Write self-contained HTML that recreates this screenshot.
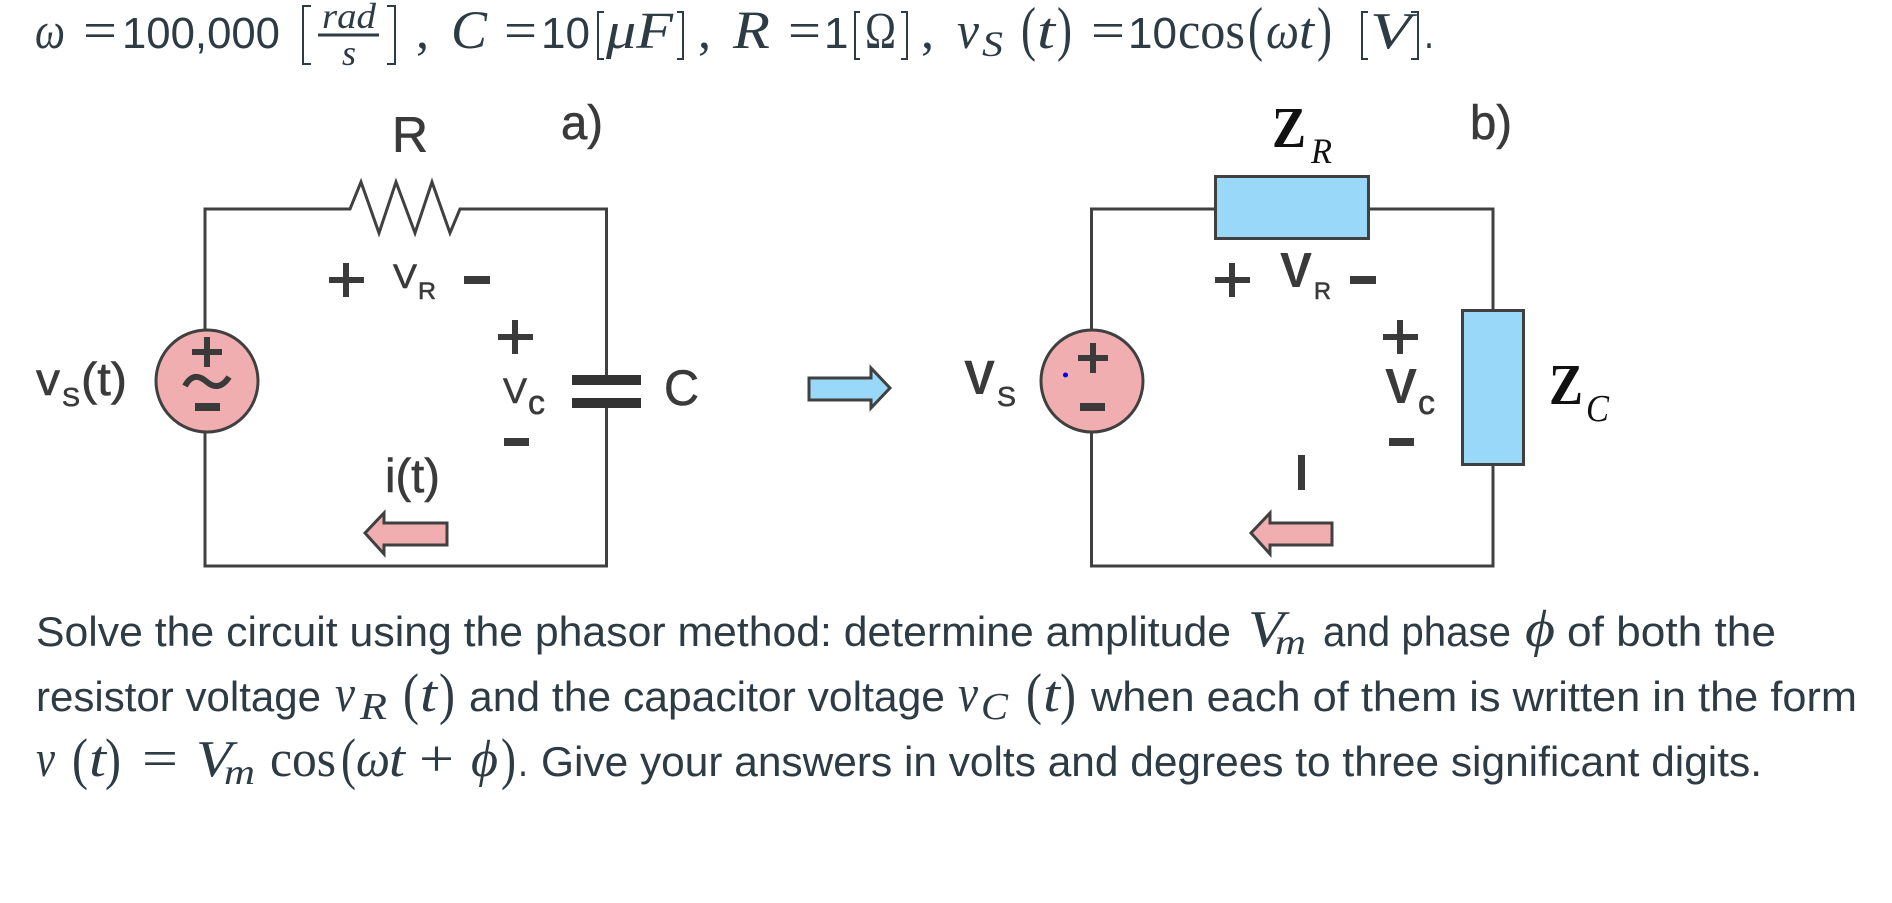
<!DOCTYPE html>
<html><head><meta charset="utf-8"><style>
html,body{margin:0;padding:0;background:#fff;width:1892px;height:903px;overflow:hidden}
svg{display:block}
.b{font-family:"Liberation Sans",sans-serif;font-size:42px;fill:#2d3b45}
.m{font-family:"Liberation Serif",serif;font-size:52px;fill:#2d3b45}
.i{font-style:italic}
.d{font-family:"Liberation Sans",sans-serif;font-size:44px;fill:#2d3b45}
.c{font-family:"Liberation Sans",sans-serif;fill:#3a3a3a;stroke:#3a3a3a;stroke-width:.6}
.z{font-family:"Liberation Serif",serif;fill:#111}
.w{fill:none;stroke:#404040;stroke-width:3}
.p{stroke:#3a3a3a;stroke-width:6;fill:none}
</style></head><body>
<svg width="1892" height="903" viewBox="0 0 1892 903" xmlns="http://www.w3.org/2000/svg">
<!-- top equation -->
<text class="m i" x="35" y="48" textLength="30" lengthAdjust="spacingAndGlyphs">ω</text>
<text class="m" x="83" y="48" textLength="34" lengthAdjust="spacingAndGlyphs">=</text>
<text class="d" x="122" y="48" textLength="158" lengthAdjust="spacingAndGlyphs">100,000</text>
<path d="M311 6H303V64H311M387 6H395V64H387" fill="none" stroke="#2d3b45" stroke-width="2"/>
<text class="m i" x="322" y="28" style="font-size:36px" textLength="54" lengthAdjust="spacingAndGlyphs">rad</text>
<rect x="318" y="33.500" width="61" height="3" fill="#2d3b45"/>
<text class="m i" x="342" y="65" style="font-size:36px" textLength="14" lengthAdjust="spacingAndGlyphs">s</text>
<text class="m" x="416" y="48">,</text>
<text class="m i" x="451" y="48" style="font-size:54px" textLength="36" lengthAdjust="spacingAndGlyphs">C</text>
<text class="m" x="504" y="48" textLength="33" lengthAdjust="spacingAndGlyphs">=</text>
<text class="d" x="541" y="48" textLength="49" lengthAdjust="spacingAndGlyphs">10</text>
<path d="M604 12H598V59H604M677 12H683V59H677" fill="none" stroke="#2d3b45" stroke-width="2"/>
<text class="m i" x="606" y="48" textLength="67" lengthAdjust="spacingAndGlyphs">μF</text>
<text class="m" x="698" y="48">,</text>
<text class="m i" x="733" y="48" style="font-size:54px" textLength="37" lengthAdjust="spacingAndGlyphs">R</text>
<text class="m" x="788" y="48" textLength="33" lengthAdjust="spacingAndGlyphs">=</text>
<text class="d" x="824" y="48">1</text>
<path d="M860 12H855V59H860M901 12H907V59H901" fill="none" stroke="#2d3b45" stroke-width="2"/>
<text class="m" x="865" y="48" textLength="31" lengthAdjust="spacingAndGlyphs">Ω</text>
<text class="m" x="921" y="48">,</text>
<text class="m i" x="957" y="48" textLength="22" lengthAdjust="spacingAndGlyphs">v</text>
<text class="m i" x="982" y="56" style="font-size:36px" textLength="21" lengthAdjust="spacingAndGlyphs">S</text>
<text class="m" x="1021" y="49" style="font-size:60px" textLength="15" lengthAdjust="spacingAndGlyphs">(</text>
<text class="m i" x="1037" y="48" textLength="18" lengthAdjust="spacingAndGlyphs">t</text>
<text class="m" x="1057" y="49" style="font-size:60px" textLength="15" lengthAdjust="spacingAndGlyphs">)</text>
<text class="m" x="1091" y="48" textLength="34" lengthAdjust="spacingAndGlyphs">=</text>
<text class="d" x="1128" y="48" textLength="49" lengthAdjust="spacingAndGlyphs">10</text>
<text class="m" x="1178" y="48" textLength="67" lengthAdjust="spacingAndGlyphs">cos</text>
<text class="m" x="1248" y="49" style="font-size:60px" textLength="15" lengthAdjust="spacingAndGlyphs">(</text>
<text class="m i" x="1266" y="48" textLength="33" lengthAdjust="spacingAndGlyphs">ω</text>
<text class="m i" x="1299" y="48" textLength="15" lengthAdjust="spacingAndGlyphs">t</text>
<text class="m" x="1317" y="49" style="font-size:60px" textLength="15" lengthAdjust="spacingAndGlyphs">)</text>
<path d="M1368 12H1362V59H1368M1411 12H1418V59H1411" fill="none" stroke="#2d3b45" stroke-width="2"/>
<text class="m i" x="1370" y="48" textLength="41" lengthAdjust="spacingAndGlyphs">V</text>
<text class="d" x="1424" y="48" textLength="10" lengthAdjust="spacingAndGlyphs">.</text>

<!-- circuit a -->
<path class="w" d="M205 330V209H350L361 182L379 233L396 182L415 233L432 182L450 233L460 209H606.500V375M606.500 408V566H205V432"/>
<ellipse cx="207" cy="381" rx="51" ry="51" fill="#f1aeb0" stroke="#404040" stroke-width="3"/>
<path class="p" d="M192 352H222M207 337V367"/>
<path d="M185 386C192 373 200 376 207 382C214 388 222 388 229 377" fill="none" stroke="#3a3a3a" stroke-width="6"/>
<rect x="195" y="403" width="25" height="8" fill="#3a3a3a"/>
<rect x="572" y="375" width="69" height="10" fill="#333"/>
<rect x="572" y="398" width="69" height="10" fill="#333"/>
<path class="p" d="M329 280H364M346 263V297"/>
<text class="c" x="393" y="288" style="font-size:34px" textLength="24" lengthAdjust="spacingAndGlyphs">V</text>
<text class="c" x="418" y="299" style="font-size:24px" textLength="18" lengthAdjust="spacingAndGlyphs">R</text>
<rect x="464" y="276" width="26" height="8" fill="#3a3a3a"/>
<path class="p" d="M498 337H533M515 320V354"/>
<text class="c" x="503" y="403" style="font-size:35px" textLength="24" lengthAdjust="spacingAndGlyphs">V</text>
<text class="c" x="528" y="414" style="font-size:34px" textLength="17" lengthAdjust="spacingAndGlyphs">c</text>
<rect x="504" y="438" width="25" height="8" fill="#3a3a3a"/>
<text class="c" x="392" y="152" style="font-size:50px" textLength="36" lengthAdjust="spacingAndGlyphs">R</text>
<text class="c" x="561" y="139" style="font-size:48px" textLength="42" lengthAdjust="spacingAndGlyphs">a)</text>
<text class="c" x="664" y="405" style="font-size:50px" textLength="35" lengthAdjust="spacingAndGlyphs">C</text>
<text class="c" x="36" y="395" style="font-size:46px" textLength="24" lengthAdjust="spacingAndGlyphs">v</text>
<text class="c" x="62" y="406" style="font-size:26px" textLength="18" lengthAdjust="spacingAndGlyphs">S</text>
<text class="c" x="81" y="395" style="font-size:46px" textLength="46" lengthAdjust="spacingAndGlyphs">(t)</text>
<text class="c" x="385" y="492" style="font-size:47px" textLength="55" lengthAdjust="spacingAndGlyphs">i(t)</text>
<path d="M447 523H384V513L365 533L384 554V545H447Z" fill="#f1aeb0" stroke="#404040" stroke-width="3"/>
<path d="M809 378H871V368L890 388L871 408V400H809Z" fill="#99d8f9" stroke="#404040" stroke-width="3"/>

<!-- circuit b -->
<path class="w" d="M1091.500 330V209H1215M1369 209H1493V310M1493 464V566H1091.500V432"/>
<rect x="1215.500" y="176.500" width="153" height="62" fill="#99d8f9" stroke="#404040" stroke-width="3"/>
<rect x="1462.500" y="310.500" width="61" height="154" fill="#99d8f9" stroke="#404040" stroke-width="3"/>
<ellipse cx="1092" cy="381" rx="51" ry="51" fill="#f1aeb0" stroke="#404040" stroke-width="3"/>
<path class="p" d="M1078 358H1108M1093 343V373"/>
<rect x="1080" y="403" width="25" height="8" fill="#3a3a3a"/>
<circle cx="1065.500" cy="375" r="2.500" fill="#0000e0"/>
<path class="p" d="M1215 280H1250M1232 263V297"/>
<text class="c" x="1280" y="287" style="font-size:49px;font-weight:bold;stroke-width:0" textLength="32" lengthAdjust="spacingAndGlyphs">V</text>
<text class="c" x="1314" y="299" style="font-size:24px" textLength="17" lengthAdjust="spacingAndGlyphs">R</text>
<rect x="1350" y="276" width="26" height="8" fill="#3a3a3a"/>
<path class="p" d="M1383 337H1418M1400 320V354"/>
<text class="c" x="1385" y="403" style="font-size:49px;font-weight:bold;stroke-width:0" textLength="32" lengthAdjust="spacingAndGlyphs">V</text>
<text class="c" x="1418" y="414" style="font-size:34px" textLength="17" lengthAdjust="spacingAndGlyphs">c</text>
<rect x="1389" y="438" width="25" height="8" fill="#3a3a3a"/>
<text class="c" x="964" y="394" style="font-size:48px;font-weight:bold;stroke-width:0" textLength="31" lengthAdjust="spacingAndGlyphs">V</text>
<text class="c" x="997" y="406" style="font-size:28px" textLength="19" lengthAdjust="spacingAndGlyphs">S</text>
<rect x="1298" y="455" width="7" height="35" fill="#3a3a3a"/>
<text class="z" x="1272" y="147" style="font-size:58px;font-weight:bold" textLength="34" lengthAdjust="spacingAndGlyphs">Z</text>
<text class="z" x="1311" y="163" style="font-size:36px;font-style:italic" textLength="21" lengthAdjust="spacingAndGlyphs">R</text>
<text class="c" x="1470" y="139" style="font-size:48px" textLength="42" lengthAdjust="spacingAndGlyphs">b)</text>
<text class="z" x="1549" y="404" style="font-size:58px;font-weight:bold" textLength="34" lengthAdjust="spacingAndGlyphs">Z</text>
<text class="z" x="1586" y="421" style="font-size:38px;font-style:italic" textLength="23" lengthAdjust="spacingAndGlyphs">C</text>
<path d="M1332 523H1270V513L1251 533L1270 554V545H1332Z" fill="#f1aeb0" stroke="#404040" stroke-width="3"/>

<!-- body line 1 -->
<text class="b" x="36" y="646" textLength="1195" lengthAdjust="spacingAndGlyphs">Solve the circuit using the phasor method: determine amplitude</text>
<text class="m i" x="1248" y="646" textLength="36" lengthAdjust="spacingAndGlyphs">V</text>
<text class="m i" x="1275" y="654" style="font-size:36px" textLength="31" lengthAdjust="spacingAndGlyphs">m</text>
<text class="b" x="1323" y="646" textLength="188" lengthAdjust="spacingAndGlyphs">and phase</text>
<text class="m i" x="1525" y="646" textLength="30" lengthAdjust="spacingAndGlyphs">ϕ</text>
<text class="b" x="1567" y="646" textLength="209" lengthAdjust="spacingAndGlyphs">of both the</text>
<!-- body line 2 -->
<text class="b" x="36" y="711" textLength="285" lengthAdjust="spacingAndGlyphs">resistor voltage</text>
<text class="m i" x="335" y="711" textLength="20" lengthAdjust="spacingAndGlyphs">v</text>
<text class="m i" x="360" y="719" style="font-size:38px" textLength="27" lengthAdjust="spacingAndGlyphs">R</text>
<text class="m" x="403" y="713" style="font-size:57px" textLength="16" lengthAdjust="spacingAndGlyphs">(</text>
<text class="m i" x="420" y="711" textLength="17" lengthAdjust="spacingAndGlyphs">t</text>
<text class="m" x="439" y="713" style="font-size:57px" textLength="16" lengthAdjust="spacingAndGlyphs">)</text>
<text class="b" x="469" y="711" textLength="476" lengthAdjust="spacingAndGlyphs">and the capacitor voltage</text>
<text class="m i" x="958" y="711" textLength="20" lengthAdjust="spacingAndGlyphs">v</text>
<text class="m i" x="981" y="719" style="font-size:38px" textLength="27" lengthAdjust="spacingAndGlyphs">C</text>
<text class="m" x="1026" y="713" style="font-size:57px" textLength="16" lengthAdjust="spacingAndGlyphs">(</text>
<text class="m i" x="1043" y="711" textLength="17" lengthAdjust="spacingAndGlyphs">t</text>
<text class="m" x="1060" y="713" style="font-size:57px" textLength="16" lengthAdjust="spacingAndGlyphs">)</text>
<text class="b" x="1091" y="711" textLength="766" lengthAdjust="spacingAndGlyphs">when each of them is written in the form</text>
<!-- body line 3 -->
<text class="m i" x="36" y="776" textLength="19" lengthAdjust="spacingAndGlyphs">v</text>
<text class="m" x="72" y="778" style="font-size:57px" textLength="16" lengthAdjust="spacingAndGlyphs">(</text>
<text class="m i" x="89" y="776" textLength="17" lengthAdjust="spacingAndGlyphs">t</text>
<text class="m" x="105" y="778" style="font-size:57px" textLength="16" lengthAdjust="spacingAndGlyphs">)</text>
<text class="m" x="142" y="776" textLength="36" lengthAdjust="spacingAndGlyphs">=</text>
<text class="m i" x="196" y="776" textLength="36" lengthAdjust="spacingAndGlyphs">V</text>
<text class="m i" x="224" y="784" style="font-size:36px" textLength="31" lengthAdjust="spacingAndGlyphs">m</text>
<text class="m" x="270" y="776" textLength="66" lengthAdjust="spacingAndGlyphs">cos</text>
<text class="m" x="341" y="778" style="font-size:57px" textLength="15" lengthAdjust="spacingAndGlyphs">(</text>
<text class="m i" x="356" y="776" textLength="34" lengthAdjust="spacingAndGlyphs">ω</text>
<text class="m i" x="389" y="776" textLength="16" lengthAdjust="spacingAndGlyphs">t</text>
<text class="m" x="419" y="776" textLength="35" lengthAdjust="spacingAndGlyphs">+</text>
<text class="m i" x="471" y="776" textLength="27" lengthAdjust="spacingAndGlyphs">ϕ</text>
<text class="m" x="501" y="778" style="font-size:57px" textLength="15" lengthAdjust="spacingAndGlyphs">)</text>
<text class="b" x="518" y="776" textLength="10" lengthAdjust="spacingAndGlyphs">.</text>
<text class="b" x="541" y="776" textLength="1221" lengthAdjust="spacingAndGlyphs">Give your answers in volts and degrees to three significant digits.</text>
</svg>
</body></html>
